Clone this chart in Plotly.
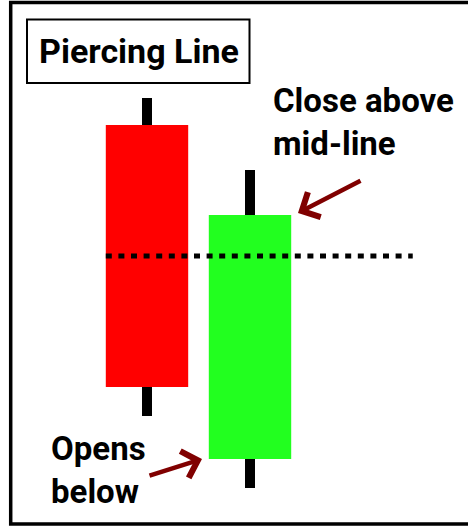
import plotly.graph_objects as go

# Piercing line pattern: bearish candle followed by bullish candle
candle_x = [1, 2]
opens = [37.5, 4.1]
closes = [11.3, 28.5]
highs = [40.2, 33.0]
lows = [8.4, 1.2]
body_colors = ["#FF0000", "#22FF1F"]

title_text = "Piercing Line"
note_close = "Close above<br>mid-line"
note_open = "Opens<br>below"

W, H = 468, 527
FONT = "Roboto, Liberation Sans, sans-serif"


def px(x, y):
    # pixel position -> paper coords
    return x / W, 1 - y / H


fig = go.Figure()

# wicks first, bodies drawn over them
fig.add_trace(go.Bar(
    x=candle_x, base=lows, y=[h - l for h, l in zip(highs, lows)],
    width=0.097, marker=dict(color="black", line_width=0), hoverinfo="skip"))
fig.add_trace(go.Bar(
    x=candle_x, base=[min(o, c) for o, c in zip(opens, closes)],
    y=[abs(c - o) for o, c in zip(opens, closes)],
    width=0.8, marker=dict(color=body_colors, line_width=0), hoverinfo="skip"))

# mid-line of the first (red) body
mid = (opens[0] + closes[0]) / 2
fig.add_trace(go.Scatter(
    x=[0.6, 3.58], y=[mid, mid], mode="lines",
    line=dict(color="black", width=5, dash="6px,6.6px"), hoverinfo="skip"))

# outer frame: top, left and bottom sides (right side runs off the image)
lx, ty_ = px(10.7, 2.5)
rx, by_ = px(W + 5, 524)
fig.add_shape(type="path", xref="paper", yref="paper",
              path=f"M {rx},{ty_} L {lx},{ty_} L {lx},{by_} L {rx},{by_}",
              line=dict(color="black", width=3.5))
# title box
bx0, by0 = px(27, 19.5)
bx1, by1 = px(249.5, 83)
fig.add_shape(type="rect", xref="paper", yref="paper", x0=bx0, y0=by1, x1=bx1, y1=by0,
              line=dict(color="black", width=2))

tx, ty = px(138.5, 51)
fig.add_annotation(x=tx, y=ty, xref="paper", yref="paper", text=title_text, showarrow=False,
                   xanchor="center", yanchor="middle",
                   font=dict(family=FONT, size=34, color="black", weight="bold"))
cx, cy = px(271, 122)
fig.add_annotation(x=cx, y=cy, xref="paper", yref="paper", text=note_close, showarrow=False,
                   xanchor="left", yanchor="middle", align="left",
                   font=dict(family=FONT, size=33, color="black", weight="bold"))
ox, oy = px(49, 470)
fig.add_annotation(x=ox, y=oy, xref="paper", yref="paper", text=note_open, showarrow=False,
                   xanchor="left", yanchor="middle", align="left",
                   font=dict(family=FONT, size=33, color="black", weight="bold"))

# arrows
for tip, off in [((298, 213), (64, -33)), ((202, 459), (-54, 17))]:
    ax_, ay_ = px(*tip)
    fig.add_annotation(x=ax_, y=ay_, xref="paper", yref="paper", text="", showarrow=True,
                       ax=off[0], ay=off[1], arrowhead=4, arrowsize=1.2, arrowwidth=4.5,
                       arrowcolor="#800000")

fig.update_layout(
    width=W, height=H, margin=dict(l=0, r=0, t=0, b=0),
    plot_bgcolor="white", paper_bgcolor="white",
    barmode="overlay", showlegend=False,
    xaxis=dict(range=[1 - 147 / 103, 1 + (W - 147) / 103], visible=False, fixedrange=True),
    yaxis=dict(range=[-2.7, 50], visible=False, fixedrange=True),
)

fig.write_html("out.html", config={"displayModeBar": False},
               post_script="document.body.style.margin='0';")
